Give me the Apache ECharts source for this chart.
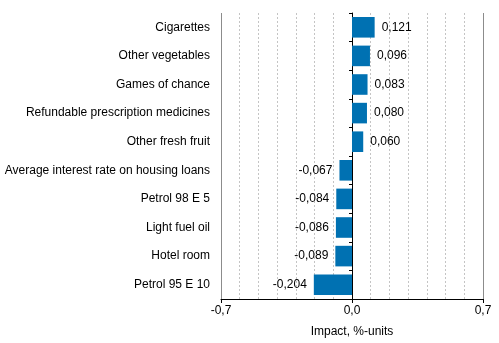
<!DOCTYPE html>
<html>
<head>
<meta charset="utf-8">
<script src="https://cdn.jsdelivr.net/npm/echarts@6/dist/echarts.min.js"></script>
<style>
  html, body { margin: 0; padding: 0; background: #fff; }
  #chart { width: 499px; height: 343px; }
</style>
</head>
<body>
<div id="chart"></div>
<script>
// categories top to bottom
var categories = [
    'Cigarettes',
    'Other vegetables',
    'Games of chance',
    'Refundable prescription medicines',
    'Other fresh fruit',
    'Average interest rate on housing loans',
    'Petrol 98 E 5',
    'Light fuel oil',
    'Hotel room',
    'Petrol 95 E 10'
]
var impactValues = [0.121, 0.096, 0.083, 0.080, 0.060, -0.067, -0.084, -0.086, -0.089, -0.204]
var axisMin = -0.7
var axisMax = 0.7
var axisName = 'Impact, %-units'

function fmt(v, digits) {
    return v.toFixed(digits).replace('.', ',')
}

var barData = []
for (var i = 0; i < impactValues.length; i++) {
    var v = impactValues[i]
    barData.push({
        value: v,
        label: {
            position: v >= 0 ? 'right' : 'left'
        }
    })
}

var myChart = echarts.init(document.getElementById('chart'))

var option = {
    animation: false,
    textStyle: { fontFamily: 'Liberation Sans, Arial, sans-serif' },
    grid: {
        left: 221,
        right: 16,
        top: 13,
        bottom: 42,
        containLabel: false
    },
    xAxis: {
        type: 'value',
        min: axisMin,
        max: axisMax,
        interval: 0.7,
        name: axisName,
        nameLocation: 'middle',
        nameGap: 27,
        nameTextStyle: { color: '#000', fontSize: 12 },
        axisLine: { show: true, lineStyle: { color: '#000' } },
        axisTick: { show: true, length: 4, lineStyle: { color: '#000' } },
        axisLabel: {
            color: '#000',
            fontSize: 12,
            margin: 6,
            formatter: function (v) { return fmt(v, 1) }
        },
        splitLine: { show: true, lineStyle: { color: '#8c8c8c', width: 1 } },
        minorTick: { show: false, splitNumber: 7 },
        minorSplitLine: { show: true, lineStyle: { color: '#c4c4c4', type: [2, 2], width: 1 } }
    },
    yAxis: {
        type: 'category',
        inverse: true,
        data: categories,
        axisLine: { show: true, onZero: true, lineStyle: { color: '#000' } },
        axisTick: { show: true, length: 3, lineStyle: { color: '#000' } },
        axisLabel: {
            color: '#000',
            fontSize: 12,
            margin: 11
        },
        position: 'left'
    },
    series: [
        {
            type: 'bar',
            data: barData,
            barCategoryGap: '28%',
            itemStyle: { color: '#0071b2' },
            label: {
                show: true,
                color: '#000',
                fontSize: 12,
                distance: 7,
                formatter: function (p) { return fmt(p.value, 3) }
            }
        }
    ]
}

myChart.setOption(option)
</script>
</body>
</html>
